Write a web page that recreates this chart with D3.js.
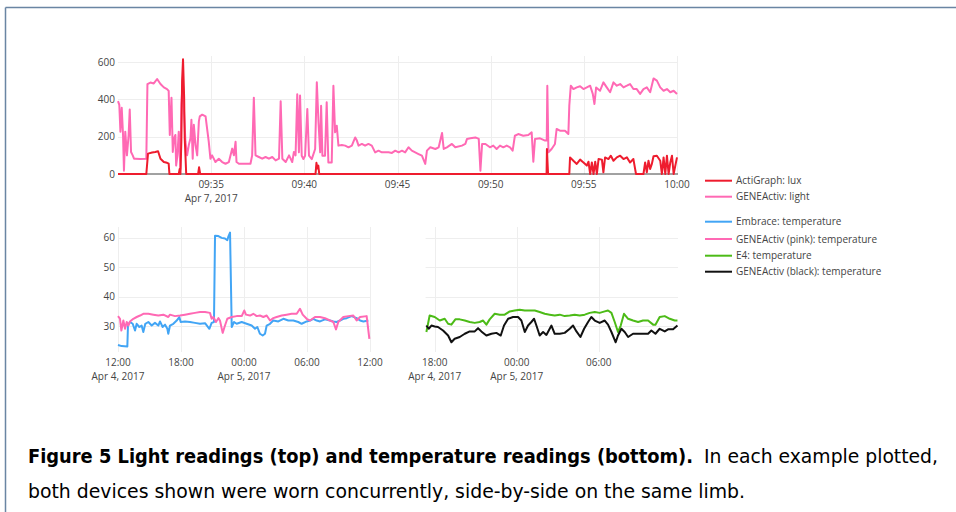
<!DOCTYPE html>
<html><head><meta charset="utf-8">
<script src="https://cdn.jsdelivr.net/npm/d3@7"></script>
<style>
html,body{margin:0;padding:0;background:#fff;}
svg{display:block;}
</style></head>
<body>
<svg id="c" width="956" height="512"></svg>
<script>
// ---------- DATA ----------
// Top panel: minutes after 09:30 on Apr 7, 2017
const geneLightT = [0,0.07,0.13,0.2,0.27,0.32,0.39,0.48,0.57,0.63,0.7,0.79,0.86,0.93,1.2,1.52,1.58,1.74,1.92,2.1,2.28,2.46,2.63,2.72,2.78,2.87,2.94,3.01,3.08,3.12,3.19,3.26,3.35,3.4,3.48,3.55,3.62,3.71,3.8,3.89,3.94,4.01,4.07,4.16,4.25,4.34,4.39,4.52,4.7,4.78,4.87,4.96,5.05,5.23,5.41,5.59,5.77,5.95,6.13,6.22,6.31,6.36,6.49,6.67,6.85,7.11,7.2,7.29,7.38,7.56,7.74,7.92,8.1,8.28,8.46,8.64,8.73,8.82,9.0,9.18,9.35,9.44,9.53,9.62,9.71,9.77,9.86,9.95,10.04,10.16,10.25,10.4,10.58,10.67,10.76,10.85,10.9,10.97,11.11,11.2,11.29,11.47,11.56,11.65,11.74,11.83,12.01,12.19,12.37,12.55,12.73,12.82,12.91,13.09,13.26,13.44,13.62,13.8,13.98,14.16,14.34,14.52,14.7,14.88,15.06,15.24,15.41,15.59,15.77,15.95,16.13,16.31,16.49,16.58,16.76,17.03,17.21,17.39,17.48,17.65,17.92,18.1,18.46,18.64,18.73,18.91,19.18,19.36,19.45,19.54,19.72,19.96,20.14,20.32,20.5,20.68,20.86,21.04,21.18,21.3,21.48,21.75,22.02,22.2,22.29,22.38,22.65,22.92,23.01,23.04,23.1,23.27,23.45,23.54,23.72,23.99,24.17,24.22,24.3,24.44,24.62,24.8,24.98,25.16,25.34,25.48,25.57,25.66,25.87,26.05,26.23,26.41,26.59,26.77,26.95,27.13,27.31,27.48,27.66,27.84,28.02,28.2,28.38,28.56,28.74,28.92,29.1,29.28,29.46,29.64,29.82,30.0];
const geneLightV = [390,370,227,355,210,18,227,100,209,345,118,100,82,82,80,82,482,490,485,509,482,464,455,445,209,409,118,191,209,45,100,227,27,373,500,318,173,100,155,191,291,82,264,155,100,282,309,318,309,245,173,82,100,64,82,64,55,64,136,100,173,64,55,55,55,55,100,409,100,91,82,91,82,91,73,82,390,82,64,100,64,118,100,427,116,420,98,80,98,348,98,80,134,491,277,116,366,98,98,384,62,62,473,223,259,152,155,152,143,152,196,179,152,161,152,161,152,116,125,116,116,116,113,125,116,125,116,143,125,116,107,98,54,125,143,134,143,220,134,143,161,143,152,161,188,191,196,188,18,161,161,143,152,134,152,143,152,143,125,205,214,205,209,223,66,188,191,179,179,473,116,134,161,241,232,232,214,366,473,455,464,470,455,464,473,429,375,464,446,491,464,438,491,473,482,464,473,482,455,455,429,455,464,438,512,500,464,446,455,438,446,429];
const actiLuxT = [0,1.52,1.61,1.83,2.0,2.15,2.28,2.46,2.63,2.72,2.76,3.26,3.31,3.35,3.4,3.44,3.49,3.55,3.58,3.62,3.66,4.3,4.35,4.41,10.6,10.65,10.7,10.75,10.8,23.0,23.02,23.08,24.22,24.26,24.44,24.62,24.8,24.98,25.16,25.25,25.34,25.43,25.52,25.61,25.7,25.79,25.97,26.05,26.14,26.32,26.45,26.59,26.77,26.95,27.13,27.31,27.48,27.66,27.8,28.2,28.29,28.38,28.47,28.56,28.65,28.74,28.92,29.1,29.19,29.28,29.37,29.46,29.55,29.64,29.73,29.82,29.91,30.0];
const actiLuxV = [0,0,109,115,118,122,82,64,60,55,0,0,27,0,173,500,615,409,191,100,0,0,36,0,0,60,30,45,0,0,134,0,0,89,71,54,77,62,45,66,0,62,0,66,0,80,77,9,89,80,98,71,89,98,80,89,62,80,0,0,62,9,71,27,54,95,98,71,0,89,0,98,0,62,98,0,45,89];
const lightTicks = [5,10,15,20,25,30];          // minutes after 09:30
const lightYTicks = [0,200,400,600];

// Bottom-left: hours after 12:00, Apr 4, 2017
const embraceT = [0,0.35,0.89,0.95,1.14,1.4,1.62,1.78,2.03,2.25,2.41,2.6,2.89,3.21,3.52,3.84,4.0,4.25,4.48,4.7,4.79,4.95,5.27,5.59,5.84,5.97,6.38,6.86,7.33,7.81,8.29,8.7,8.92,9.14,9.24,9.56,9.87,10.19,10.41,10.5,10.67,10.83,11.05,11.3,11.78,12.25,12.73,13.05,13.27,13.52,13.78,14.0,14.16,14.48,14.79,15.27,15.75,16.22,16.7,17.17,17.49,17.97,18.29,18.6,18.92,19.24,19.71,20.19,20.51,20.83,21.14,21.46,21.78,22.25,22.73,23.05,23.37,23.84];
const embraceV = [23.6,23.2,23.1,30.2,31.4,30.8,28.5,30.8,29.7,30.2,28.0,30.8,31.4,30.2,31.1,30.2,31.6,29.7,30.5,29.1,27.4,30.2,30.8,31.9,33.1,31.4,31.6,31.4,31.1,30.8,31.0,29.1,31.1,31.4,60.7,60.6,60.0,59.8,59.2,60.3,61.8,29.7,31.4,30.8,31.4,30.8,30.2,29.1,29.7,27.4,26.8,27.4,30.2,30.8,31.9,31.6,32.5,31.9,31.9,31.4,30.8,31.6,31.9,32.5,31.9,31.6,32.3,31.9,31.6,31.4,31.9,32.5,32.7,33.4,32.7,31.9,31.6,31.9];
const genePinkT = [0,0.19,0.32,0.51,0.67,0.83,0.98,1.14,1.46,1.78,2.1,2.41,2.89,3.37,3.84,4.32,4.79,4.95,5.43,5.9,6.38,6.86,7.33,7.81,8.29,8.76,8.92,9.08,9.33,9.56,9.71,9.97,10.19,10.41,10.83,11.3,11.78,12.03,12.19,12.57,12.89,13.21,13.52,13.84,14.16,14.48,14.79,15.11,15.59,16.06,16.54,17.02,17.33,17.59,17.97,18.29,18.76,19.24,19.71,20.19,20.51,20.76,20.98,21.46,21.94,22.41,22.73,23.05,23.68,23.94];
const genePinkV = [33.4,32.5,28.5,31.9,29.1,31.4,30.2,31.6,32.5,33.1,33.6,34.2,34.2,33.9,33.6,33.9,33.1,33.9,33.4,33.6,33.9,34.2,34.5,34.8,34.8,34.5,32.5,33.1,31.4,32.7,31.9,27.7,30.2,32.5,33.1,33.4,33.4,35.3,33.9,33.6,34.2,33.4,33.6,33.1,33.6,31.9,32.7,33.1,33.6,33.9,34.2,34.2,35.9,33.9,32.5,31.9,33.1,33.1,32.7,31.9,31.4,28.9,31.4,33.1,33.4,33.6,31.9,33.1,33.4,25.7];
const leftXTicks = [0,6,12,18,24];              // hours after 12:00 Apr 4
const tempYTicks = [30,40,50,60];

// Bottom-right: hours after 18:00, Apr 4, 2017
const e4T = [-0.61,-0.37,0,0.37,0.73,0.98,1.22,1.51,1.83,2.2,2.56,2.93,3.29,3.54,3.78,4.02,4.39,4.76,5.12,5.49,5.85,6.22,6.59,6.95,7.32,7.68,8.05,8.41,8.78,9.15,9.51,9.88,10.24,10.61,10.98,11.34,11.71,12.07,12.44,12.68,12.93,13.17,13.41,13.61,13.85,14.15,14.51,14.88,15.24,15.61,15.98,16.15,16.46,16.83,17.2,17.56,17.76];
const e4V = [28.0,33.6,33.1,31.9,32.5,30.8,30.5,32.3,32.3,31.9,31.4,31.1,31.4,31.9,30.5,32.3,34.2,33.9,33.9,35.0,35.3,35.6,35.3,35.3,35.3,34.8,34.2,33.9,33.6,33.9,33.4,33.6,33.9,33.6,33.9,34.5,34.8,34.5,35.0,35.3,34.5,31.4,28.0,30.2,34.2,32.5,31.9,31.4,31.9,31.9,30.5,30.5,33.1,33.4,32.5,31.9,31.9];
const geneBlackT = [-0.61,-0.44,-0.24,0,0.24,0.61,0.98,1.22,1.46,1.83,2.2,2.56,2.93,3.17,3.41,3.78,4.15,4.51,4.83,5.07,5.37,5.73,6.1,6.34,6.59,6.83,7.07,7.27,7.44,7.68,7.93,8.17,8.54,8.78,9.15,9.51,9.88,10.12,10.37,10.66,10.93,11.22,11.46,11.71,12.07,12.44,12.68,12.93,13.24,13.41,13.66,13.9,14.15,14.51,14.88,15.24,15.61,15.85,16.15,16.46,16.83,17.07,17.44,17.76];
const geneBlackV = [30.2,29.1,30.2,29.9,29.7,28.5,26.8,24.5,25.7,26.3,27.4,28.2,28.2,29.3,28.2,26.8,27.4,27.7,26.8,30.2,32.5,33.1,33.1,31.9,28.0,30.2,31.4,32.5,30.2,26.8,28.0,27.0,30.2,27.4,27.4,27.7,29.1,30.2,28.2,26.3,29.1,31.4,33.1,31.9,31.1,31.9,30.5,28.0,24.5,26.8,29.1,28.0,26.3,27.4,27.4,27.4,27.4,28.5,27.4,29.1,28.2,28.9,28.9,30.2];
const rightXTicks = [0,6,12];                   // hours after 18:00 Apr 4

const legendLabels = ["ActiGraph: lux","GENEActiv: light","Embrace: temperature","GENEActiv (pink): temperature","E4: temperature","GENEActiv (black): temperature"];
const legendColors = ["#ee1c2e","#ff69b4","#42a5f5","#ff69b4","#4cbb17","#111111"];

// ---------- DRAW ----------
const svg = d3.select("#c");
const FONT = "'Open Sans', sans-serif";
const TXT = "#444";

// frame
svg.append("line").attr("x1",5.5).attr("x2",956).attr("y1",7.5).attr("y2",7.5).attr("stroke","#6a85a3").attr("stroke-width",1.5);
svg.append("line").attr("x1",5.5).attr("x2",5.5).attr("y1",7.5).attr("y2",512).attr("stroke","#6a85a3").attr("stroke-width",1.5);

const base930 = new Date(2017,3,7,9,30);
const addMin = m => new Date(base930.getTime() + m*60000);
const base12 = new Date(2017,3,4,12,0);
const base18 = new Date(2017,3,4,18,0);
const addH = (b,h) => new Date(b.getTime() + h*3600000);
const fmtHM = d3.timeFormat("%H:%M");
const fmtDate = d => d3.timeFormat("%b %-d, %Y")(d);

function gridAndTicks(g, x, y, xTicks, yTicks, top, bottom, left, right, dateLabelFn){
  yTicks.forEach(v=>{
    g.append("line").attr("x1",left).attr("x2",right).attr("y1",Math.round(y(v))+0.5).attr("y2",Math.round(y(v))+0.5)
     .attr("stroke","#eeeeee").attr("stroke-width",1);
  });
  xTicks.forEach(d=>{
    g.append("line").attr("x1",Math.round(x(d))+0.5).attr("x2",Math.round(x(d))+0.5).attr("y1",top).attr("y2",bottom)
     .attr("stroke","#eeeeee").attr("stroke-width",1);
  });
  xTicks.forEach((d,i)=>{
    g.append("text").attr("x",x(d)).attr("y",bottom+14).attr("text-anchor","middle")
     .attr("font-family",FONT).attr("font-size",10).attr("fill",TXT).text(fmtHM(d));
    const dl = dateLabelFn(d,i);
    if(dl) g.append("text").attr("x",x(d)).attr("y",bottom+28).attr("text-anchor","middle")
     .attr("font-family",FONT).attr("font-size",10).attr("fill",TXT).text(dl);
  });
}

function drawLine(g, x, y, T, V, toDate, color){
  const pts = T.map((t,i)=>[toDate(t), V[i]]);
  g.append("path").datum(pts)
   .attr("d", d3.line().x(d=>x(d[0])).y(d=>y(d[1])))
   .attr("fill","none").attr("stroke",color).attr("stroke-width",2).attr("stroke-linejoin","round");
}

// Top panel
{
  const g = svg.append("g");
  const x = d3.scaleTime().domain([addMin(0), addMin(30)]).range([118, 677]);
  const y = d3.scaleLinear().domain([0, 630]).range([174, 56.4]);
  gridAndTicks(g, x, y, lightTicks.map(addMin), lightYTicks.filter(v=>v>0), 56, 174, 118, 678, (d,i)=> i===0 ? fmtDate(d) : null);
  lightYTicks.forEach(v=>{
    g.append("text").attr("x",115).attr("y",y(v)).attr("dy","0.35em").attr("text-anchor","end")
     .attr("font-family",FONT).attr("font-size",10).attr("fill",TXT).text(v);
  });
  g.append("line").attr("x1",118).attr("x2",678).attr("y1",y(0)).attr("y2",y(0)).attr("stroke","#444").attr("stroke-width",1);
  drawLine(g, x, y, geneLightT, geneLightV, addMin, legendColors[1]);
  drawLine(g, x, y, actiLuxT, actiLuxV, addMin, legendColors[0]);
}

// Bottom-left panel
const yT = d3.scaleLinear().domain([21.2, 63.7]).range([352, 227]);
{
  const g = svg.append("g");
  const toD = h => addH(base12, h);
  const x = d3.scaleTime().domain([toD(0), toD(24)]).range([118, 370]);
  gridAndTicks(g, x, yT, leftXTicks.map(toD), tempYTicks, 227, 352, 118, 370,
    d => (d.getHours()===12 && d.getDate()===4) || d.getHours()===0 ? fmtDate(d) : null);
  tempYTicks.forEach(v=>{
    g.append("text").attr("x",115).attr("y",yT(v)).attr("dy","0.35em").attr("text-anchor","end")
     .attr("font-family",FONT).attr("font-size",10).attr("fill",TXT).text(v);
  });
  drawLine(g, x, yT, embraceT, embraceV, toD, legendColors[2]);
  drawLine(g, x, yT, genePinkT, genePinkV, toD, legendColors[3]);
}

// Bottom-right panel
{
  const g = svg.append("g");
  const toD = h => addH(base18, h);
  const x = d3.scaleTime().domain([toD(-0.667), toD(17.8)]).range([425.6, 678]);
  gridAndTicks(g, x, yT, rightXTicks.map(toD), tempYTicks, 227, 352, 425.6, 678,
    d => d.getHours()===18 || d.getHours()===0 ? fmtDate(d) : null);
  drawLine(g, x, yT, e4T, e4V, toD, legendColors[4]);
  drawLine(g, x, yT, geneBlackT, geneBlackV, toD, legendColors[5]);
}

// Legend
{
  const ys = [180.7,196.7,221.7,239,255.7,271.7];
  legendLabels.forEach((lab,i)=>{
    svg.append("line").attr("x1",705).attr("x2",732).attr("y1",ys[i]).attr("y2",ys[i])
      .attr("stroke",legendColors[i]).attr("stroke-width",2);
    svg.append("text").attr("x",736).attr("y",ys[i]).attr("dy","0.35em")
      .attr("font-family",FONT).attr("font-size",10).attr("fill",TXT).text(lab);
  });
}

// Caption
const CAP = "'Liberation Sans Narrow','DejaVu Sans Condensed','DejaVu Sans',sans-serif";
svg.append("text").attr("x",28).attr("y",463).attr("font-family",CAP).attr("font-weight","bold").attr("font-size",20)
  .attr("fill","#000").attr("textLength",665).attr("lengthAdjust","spacingAndGlyphs")
  .text("Figure 5  Light readings (top) and temperature readings (bottom).");
svg.append("text").attr("x",704).attr("y",463).attr("font-family",CAP).attr("font-size",20)
  .attr("fill","#000").attr("textLength",234).attr("lengthAdjust","spacingAndGlyphs")
  .text("In each example plotted,");
svg.append("text").attr("x",28).attr("y",498).attr("font-family",CAP).attr("font-size",20)
  .attr("fill","#000").attr("textLength",717).attr("lengthAdjust","spacingAndGlyphs")
  .text("both devices shown were worn concurrently, side-by-side on the same limb.");
</script>
</body></html>
